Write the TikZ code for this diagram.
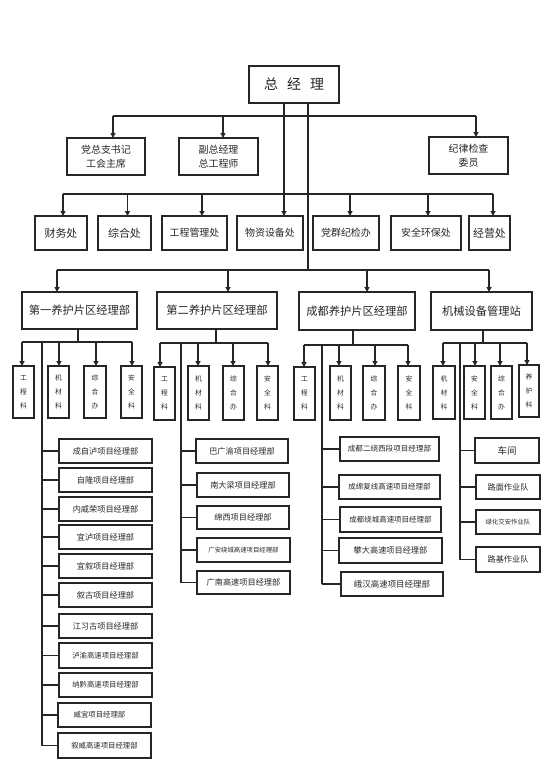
\documentclass[tikz,border=0pt]{standalone}
\usepackage{fontspec}
\setmainfont{Noto Sans CJK SC}
\usetikzlibrary{arrows.meta}
\newcommand{\fsz}[1]{\fontsize{#1}{#1}\selectfont}
\newcommand{\rbox}[7][]{%
  \pgfmathsetmacro\rbcx{(#3+#5)/2}%
  \pgfmathsetmacro\rbcy{(#4+#6)/2}%
  \pgfmathsetmacro\rbw{#5-#3}%
  \pgfmathsetmacro\rbh{#6-#4}%
  \node[box,minimum width=\rbw bp,minimum height=\rbh bp,#1] (#2) at (\rbcx,\rbcy) {#7};}
\tikzset{
  box/.style={draw=black!85, line width=1.4bp, inner sep=0pt, outer sep=0pt, align=center, text=black!85},
  ln/.style={draw=black!85, line width=1.2bp},
  arr/.style={ln, -{Triangle[length=5bp,width=5bp]}},
  small/.style={font=\fontsize{6.8}{14}\selectfont},
  dept/.style={font=\fsz{10}},
  dept3/.style={font=\fsz{11}},
  head/.style={font=\fsz{11.3}},
  lead/.style={font=\fontsize{10}{14}\selectfont},
  proj/.style={font=\fsz{8.2}},
  projs/.style={font=\fsz{7.4}},
  projt/.style={font=\fsz{6.4}},
}
\begin{document}
\begin{tikzpicture}[x=1bp,y=-1bp]
\useasboundingbox (0,0) rectangle (554,783);
% ---------- top ----------
\rbox[font=\fsz{14},line width=1.7bp]{gm}{249}{66}{339}{103}{总\hspace{0.65em}经\hspace{0.65em}理}
\rbox[lead]{dang}{67}{138}{145}{175}{党总支书记\\工会主席}
\rbox[lead]{fu}{179}{138}{258}{175}{副总经理\\总工程师}
\rbox[lead]{jl}{429}{137}{508}{174}{纪律检查\\委员}
% departments
\rbox[dept3]{cw}{35}{216}{87}{250}{财务处}
\rbox[dept3]{zh}{98}{216}{151}{250}{综合处}
\rbox[dept]{gc}{162}{216}{227}{250}{工程管理处}
\rbox[dept]{wz}{237}{216}{303}{250}{物资设备处}
\rbox[dept]{dq}{313}{216}{379}{250}{党群纪检办}
\rbox[dept]{aq}{391}{216}{461}{250}{安全环保处}
\rbox[dept3]{jy}{469}{216}{510}{250}{经营处}
% regions
\rbox[head]{r1}{22}{292}{137}{329}{第一养护片区经理部}
\rbox[head]{r2}{157}{292}{277}{329}{第二养护片区经理部}
\rbox[head]{r3}{299}{292}{415}{330}{成都养护片区经理部}
\rbox[head]{r4}{431}{292}{532}{330}{机械设备管理站}
% small boxes
\rbox[small]{s11}{13}{366}{34}{418}{工\\程\\科}
\rbox[small]{s12}{48}{366}{69}{418}{机\\材\\科}
\rbox[small]{s13}{84}{366}{106}{418}{综\\合\\办}
\rbox[small]{s14}{121}{366}{142}{418}{安\\全\\科}
\rbox[small]{s21}{154}{367}{175}{420}{工\\程\\科}
\rbox[small]{s22}{188}{366}{209}{420}{机\\材\\科}
\rbox[small]{s23}{223}{366}{244}{420}{综\\合\\办}
\rbox[small]{s24}{257}{366}{278}{420}{安\\全\\科}
\rbox[small]{s31}{294}{367}{315}{420}{工\\程\\科}
\rbox[small]{s32}{330}{366}{351}{420}{机\\材\\科}
\rbox[small]{s33}{363}{366}{385}{420}{综\\合\\办}
\rbox[small]{s34}{398}{366}{420}{420}{安\\全\\科}
\rbox[small]{s41}{433}{366}{455}{419}{机\\材\\科}
\rbox[small]{s42}{464}{366}{485}{419}{安\\全\\科}
\rbox[small]{s43}{491}{366}{512}{419}{综\\合\\办}
\rbox[small]{s44}{519}{365}{539}{417}{养\\护\\科}
% projects region 1
\rbox[proj]{p11}{59}{439}{152}{463}{成自泸项目经理部}
\rbox[proj]{p12}{59}{468}{152}{492}{自隆项目经理部}
\rbox[proj]{p13}{59}{497}{152}{521}{内威荣项目经理部}
\rbox[proj]{p14}{59}{525}{152}{549}{宜泸项目经理部}
\rbox[proj]{p15}{59}{554}{152}{578}{宜叙项目经理部}
\rbox[proj]{p16}{59}{583}{152}{607}{叙古项目经理部}
\rbox[proj]{p17}{59}{614}{152}{638}{江习古项目经理部}
\rbox[projs]{p18}{59}{643}{152}{668}{泸渝高速项目经理部}
\rbox[projs]{p19}{59}{673}{152}{697}{纳黔高速项目经理部}
\rbox[projs]{p110}{58}{703}{151}{727}{\hspace*{-10bp}威宜项目经理部}
\rbox[projs]{p111}{58}{733}{151}{758}{叙威高速项目经理部}
% projects region 2
\rbox[proj]{p21}{196}{439}{288}{463}{巴广渝项目经理部}
\rbox[proj]{p22}{197}{473}{289}{497}{南大梁项目经理部}
\rbox[proj]{p23}{197}{506}{289}{529}{绵西项目经理部}
\rbox[projt]{p24}{197}{538}{290}{562}{广安绕城高速项目经理部}
\rbox[proj]{p25}{197}{571}{290}{594}{广南高速项目经理部}
% projects region 3
\rbox[font=\fsz{7.6}]{p31}{340}{437}{439}{461}{成都二绕西段项目经理部}
\rbox[font=\fsz{7.5}]{p32}{339}{475}{440}{499}{成绵复线高速项目经理部}
\rbox[font=\fsz{7.5}]{p33}{340}{507}{441}{532}{成都绕城高速项目经理部}
\rbox[proj]{p34}{339}{538}{442}{563}{攀大高速项目经理部}
\rbox[font=\fsz{8.5}]{p35}{341}{572}{443}{596}{峨汉高速项目经理部}
% region 4 teams
\rbox[font=\fsz{9.5}]{p41}{475}{438}{539}{463}{车间}
\rbox[proj]{p42}{476}{475}{540}{499}{路面作业队}
\rbox[projt]{p43}{476}{510}{540}{534}{绿化交安作业队}
\rbox[proj]{p44}{476}{547}{540}{572}{路基作业队}
% ---------- connectors ----------
\coordinate (t1) at (113,116);
\coordinate (t2) at (223,116);
\coordinate (t3) at (476,116);
\draw[ln] (t1) -- (t3);
\draw[arr] (t1) -- (t1 |- dang.north);
\draw[arr] (t2) -- (t2 |- fu.north);
\draw[arr] (t3) -- (t3 |- jl.north);
\coordinate (ga) at (284,194);
\coordinate (gb) at (308,270);
\draw[arr] (gm.south -| ga) -- (wz.north -| ga);
\draw[ln] (gm.south -| gb) -- (gb);
% department bus
\coordinate (d1) at (63,194);
\coordinate (d2) at (127.5,194);
\coordinate (d3) at (202,194);
\coordinate (d4) at (350,194);
\coordinate (d5) at (428,194);
\coordinate (d6) at (493,194);
\draw[ln] (d1) -- (d6);
\draw[arr] (d1) -- (d1 |- cw.north);
\draw[arr] (d2) -- (d2 |- zh.north);
\draw[arr] (d3) -- (d3 |- gc.north);
\draw[arr] (d4) -- (d4 |- dq.north);
\draw[arr] (d5) -- (d5 |- aq.north);
\draw[arr] (d6) -- (d6 |- jy.north);
% region bus
\coordinate (ra) at (57,270);
\coordinate (rb) at (228,270);
\coordinate (rc) at (367,270);
\coordinate (rd) at (489,270);
\draw[ln] (ra) -- (rd);
\draw[arr] (ra) -- (ra |- r1.north);
\draw[arr] (rb) -- (rb |- r2.north);
\draw[arr] (rc) -- (rc |- r3.north);
\draw[arr] (rd) -- (rd |- r4.north);
% region 1 subs
\coordinate (k1) at (78,342);
\coordinate (k1a) at (22,342);
\coordinate (k1b) at (59,342);
\coordinate (k1c) at (96,342);
\coordinate (k1d) at (132,342);
\coordinate (v1) at (42,342);
\draw[ln] (r1.south -| k1) -- (k1);
\draw[ln] (k1a) -- (k1d);
\draw[arr] (k1a) -- (k1a |- s11.north);
\draw[arr] (k1b) -- (k1b |- s12.north);
\draw[arr] (k1c) -- (k1c |- s13.north);
\draw[arr] (k1d) -- (k1d |- s14.north);
\draw[ln] (v1) -- (v1 |- p111.west);
\foreach \p in {p11,p12,p13,p14,p15,p16,p17,p18,p19,p110,p111}
  \draw[ln] (v1 |- \p.west) -- (\p.west);
% region 2 subs
\coordinate (k2) at (216,343);
\coordinate (k2a) at (160,343);
\coordinate (k2b) at (198,343);
\coordinate (k2c) at (233,343);
\coordinate (k2d) at (268,343);
\coordinate (v2) at (181,343);
\draw[ln] (r2.south -| k2) -- (k2);
\draw[ln] (k2a) -- (k2d);
\draw[arr] (k2a) -- (k2a |- s21.north);
\draw[arr] (k2b) -- (k2b |- s22.north);
\draw[arr] (k2c) -- (k2c |- s23.north);
\draw[arr] (k2d) -- (k2d |- s24.north);
\draw[ln] (v2) -- (v2 |- p25.west);
\foreach \p in {p21,p22,p23,p24,p25}
  \draw[ln] (v2 |- \p.west) -- (\p.west);
% region 3 subs
\coordinate (k3) at (353,345);
\coordinate (k3a) at (304,345);
\coordinate (k3b) at (339,345);
\coordinate (k3c) at (375,345);
\coordinate (k3d) at (408,345);
\coordinate (v3) at (322,345);
\draw[ln] (r3.south -| k3) -- (k3);
\draw[ln] (k3a) -- (k3d);
\draw[arr] (k3a) -- (k3a |- s31.north);
\draw[arr] (k3b) -- (k3b |- s32.north);
\draw[arr] (k3c) -- (k3c |- s33.north);
\draw[arr] (k3d) -- (k3d |- s34.north);
\draw[ln] (v3) -- (v3 |- p35.west);
\foreach \p in {p31,p32,p33,p34,p35}
  \draw[ln] (v3 |- \p.west) -- (\p.west);
% region 4 subs
\coordinate (k4) at (483,343);
\coordinate (k4a) at (443,343);
\coordinate (k4b) at (475,343);
\coordinate (k4c) at (500,343);
\coordinate (k4d) at (527,343);
\coordinate (v4) at (460,343);
\draw[ln] (r4.south -| k4) -- (k4);
\draw[ln] (k4a) -- (k4d);
\draw[arr] (k4a) -- (k4a |- s41.north);
\draw[arr] (k4b) -- (k4b |- s42.north);
\draw[arr] (k4c) -- (k4c |- s43.north);
\draw[arr] (k4d) -- (k4d |- s44.north);
\draw[ln] (v4) -- (v4 |- p44.west);
\foreach \p in {p41,p42,p43,p44}
  \draw[ln] (v4 |- \p.west) -- (\p.west);
\end{tikzpicture}
\end{document}
